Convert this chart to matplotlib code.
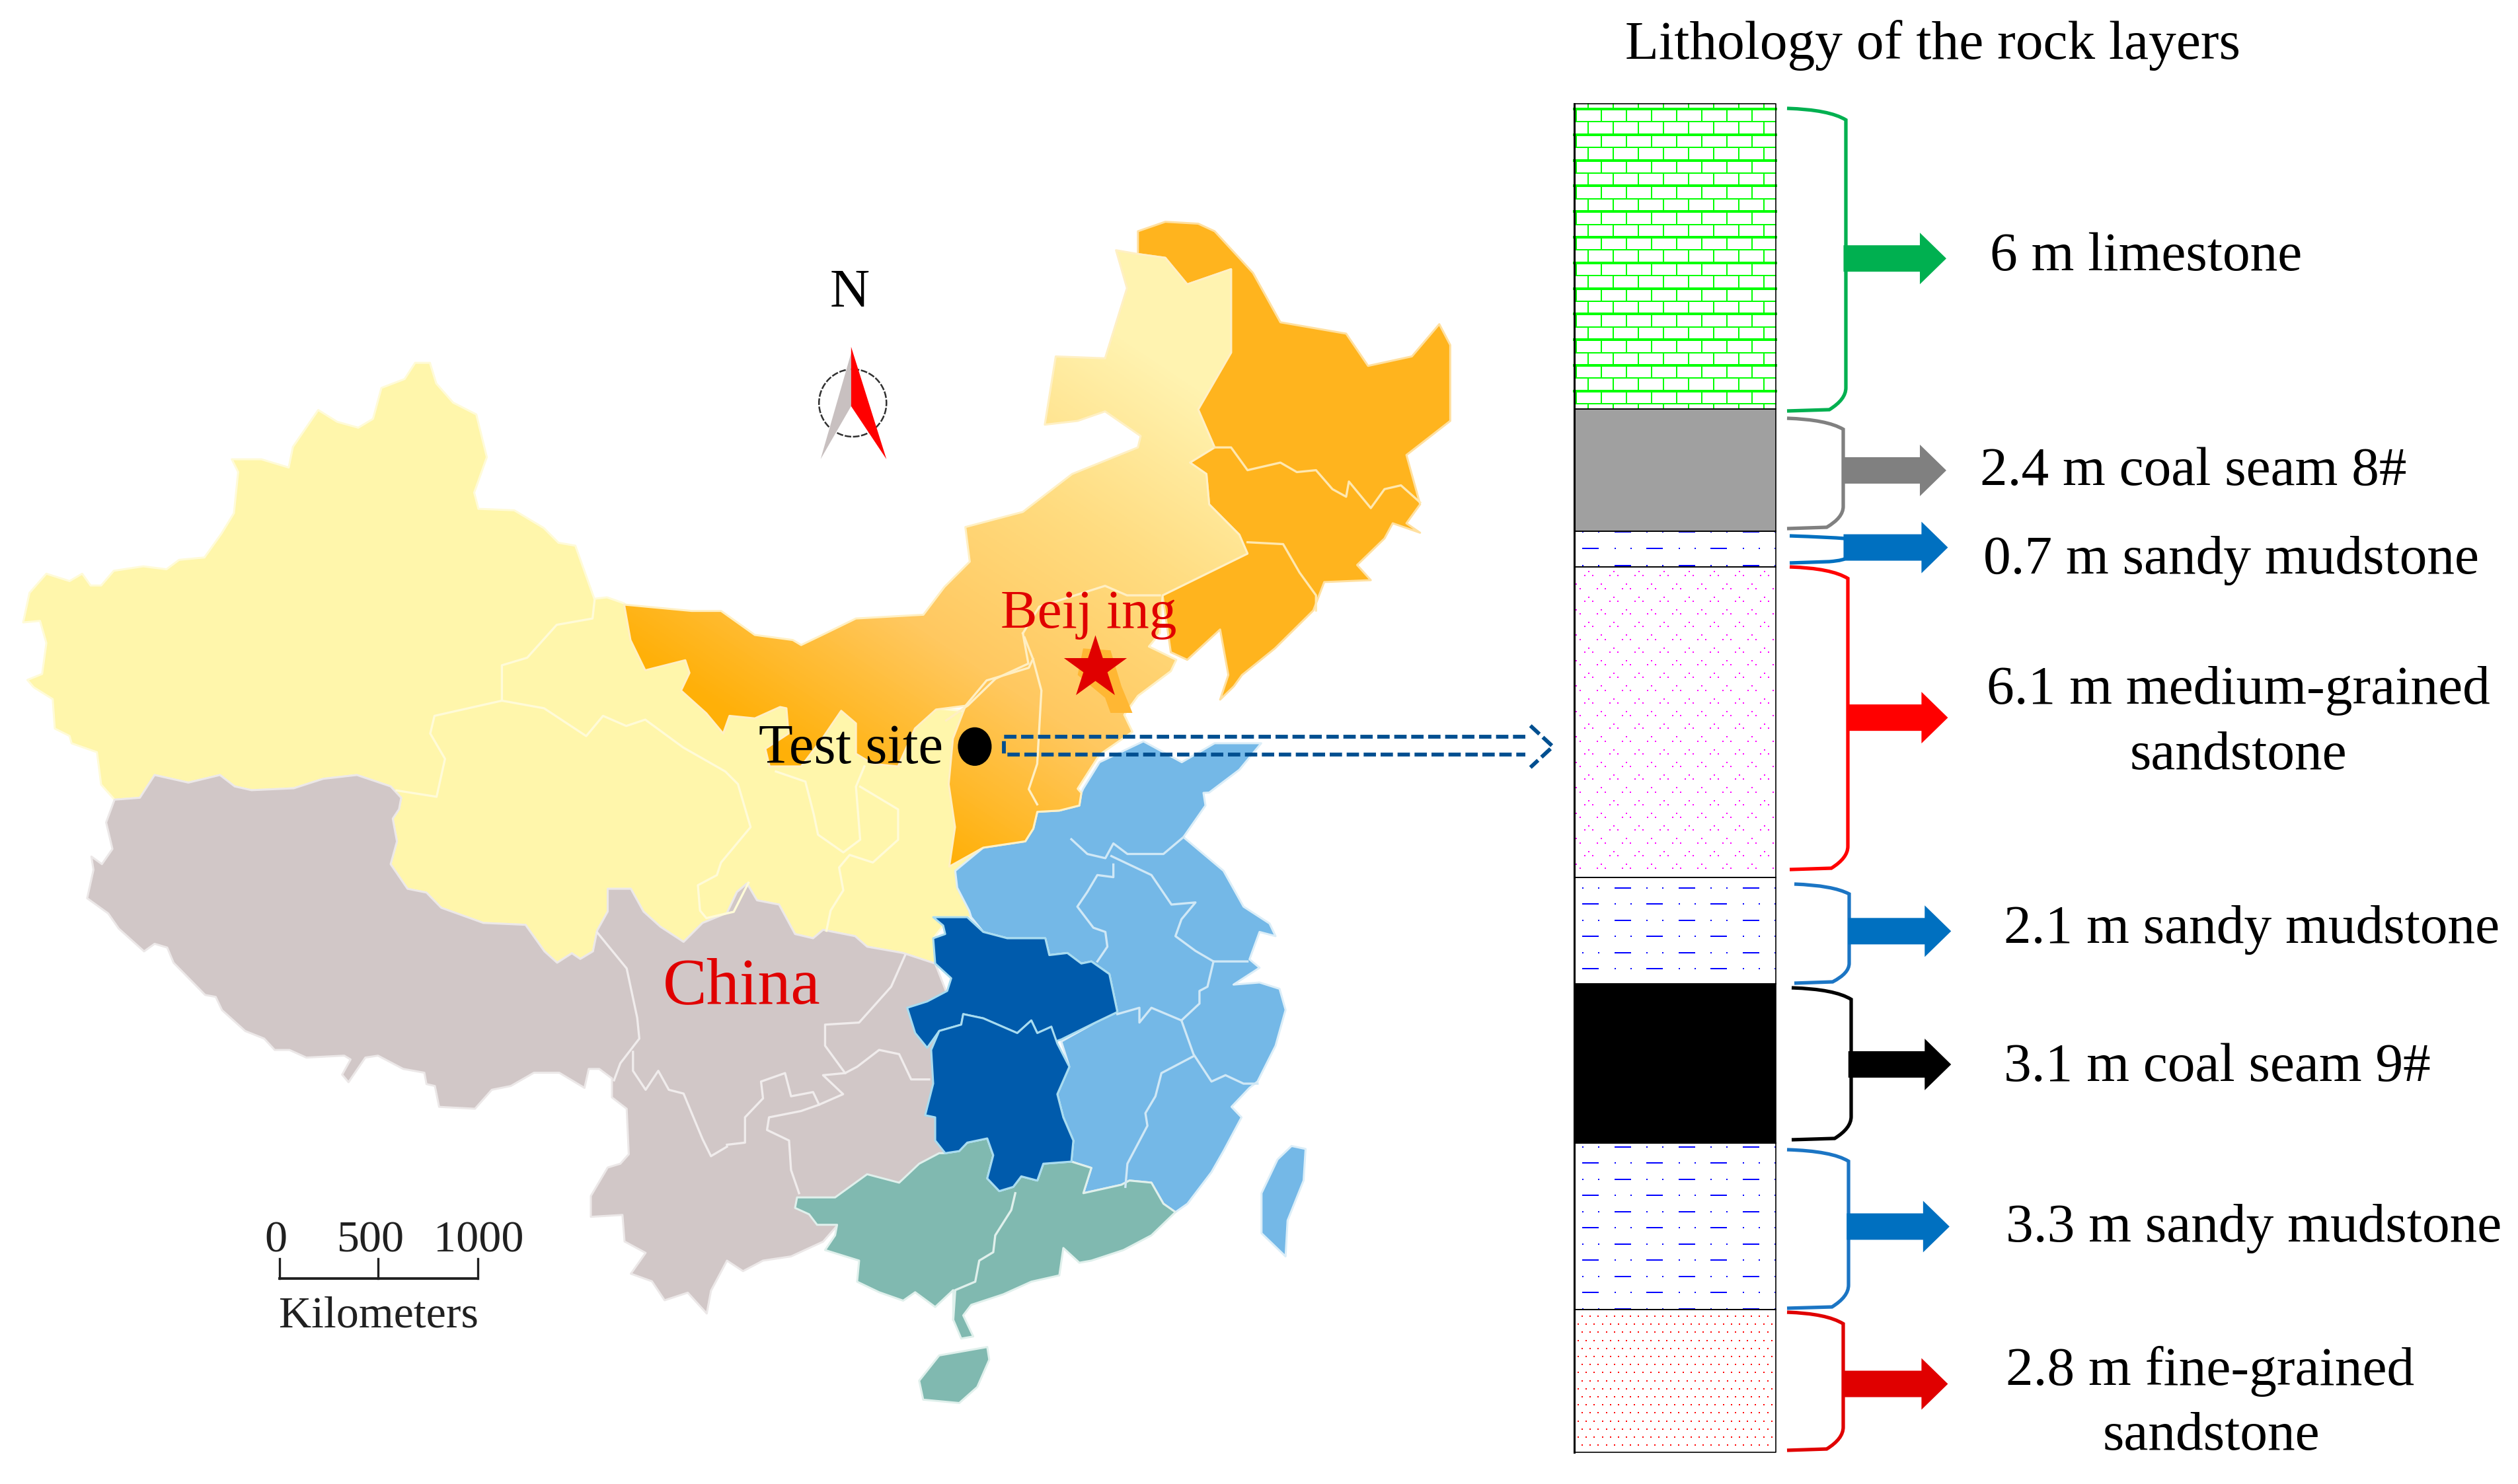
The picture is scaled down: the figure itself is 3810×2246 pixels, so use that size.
import numpy as np
import matplotlib
matplotlib.use('Agg')
import matplotlib.pyplot as plt
from matplotlib.patches import Polygon, PathPatch, Ellipse, FancyArrow
from matplotlib.path import Path
from matplotlib.colors import LinearSegmentedColormap

plt.rcParams['font.family'] = ['Liberation Serif', 'DejaVu Serif']

W, H = 3810, 2246
# labels and marks were read on a 1568 wide view of the picture
S = W / 1568


def crop(points, x, y, w, h):
    # outlines were traced on enlarged crops, 1568 units on each side
    pts = np.array(points, dtype=float)
    return np.column_stack([x + pts[:, 0] * w / 1568, y + pts[:, 1] * h / 1568])


def north(points):
    return crop(points, 1100, 350, 1300, 900)


def west(points):
    return crop(points, 0, 500, 1000, 700)


def tibet(points):
    return crop(points, 100, 1150, 1000, 900)


def south(points):
    return crop(points, 1100, 1200, 950, 1000)


def middle(points):
    return crop(points, 600, 850, 1000, 600)


xinjiang_top = west([(55, 990), (70, 890), (110, 825), (165, 850), (195, 825), (215, 865), (240, 865), (270, 815),
                     (340, 800), (395, 810), (425, 778), (485, 770), (525, 690), (555, 620), (565, 480), (550, 437),
                     (620, 437), (685, 465), (695, 395), (755, 270), (800, 310), (850, 330), (885, 300), (905, 195),
                     (960, 165), (985, 110), (1020, 110), (1035, 180), (1075, 245), (1130, 285), (1155, 430),
                     (1125, 550), (1135, 605), (1220, 610), (1290, 670), (1325, 720), (1365, 730), (1405, 890),
                     (1410, 910), (1440, 905), (1480, 925)])
xinjiang_west = west([(240, 1540), (230, 1430), (170, 1400), (165, 1375), (130, 1350), (125, 1250), (80, 1210),
                      (65, 1185), (100, 1165), (110, 1060), (95, 985)])
# yellow against grey, west to east
seam = np.vstack([
    tibet([(115, 105), (175, 100), (210, 40), (290, 60), (365, 40), (400, 70), (440, 80), (540, 75), (610, 50),
           (690, 40), (770, 70), (795, 100), (790, 130), (775, 155), (785, 215), (770, 275), (810, 340), (855, 350),
           (890, 390), (990, 430), (1090, 435), (1135, 505), (1165, 535), (1200, 510), (1220, 525), (1250, 505),
           (1260, 450), (1285, 400), (1285, 340), (1340, 340), (1370, 400), (1410, 440), (1465, 480), (1510, 430)]),
    south([(0, 285), (25, 235), (50, 215), (75, 255), (130, 265), (170, 335), (215, 345), (240, 325), (320, 340),
           (350, 365), (440, 380), (520, 405)])])
yellow_east = south([(515, 345), (540, 315), (515, 295), (610, 295), (620, 200), (700, 100), (700, 0)])
yellow_inner = middle([(1400, 600), (800, 500), (540, 170)])
west_yellow = np.vstack([xinjiang_top, yellow_inner[::-1][1:], yellow_east[::-1], seam[::-1], xinjiang_west])

gray_south = np.vstack([
    tibet([(95, 165), (110, 235), (85, 275), (60, 255), (65, 290), (50, 365), (100, 405), (125, 445), (185, 505),
           (210, 485), (240, 495), (255, 535), (330, 620), (355, 625), (370, 660), (425, 715), (470, 735), (495, 765),
           (530, 765), (570, 785), (660, 780), (675, 790), (655, 830), (670, 850), (710, 785), (740, 780), (800, 815),
           (850, 825), (855, 855), (875, 860), (885, 915), (970, 920), (1010, 870), (1055, 860), (1110, 825),
           (1170, 825), (1230, 865), (1240, 815), (1265, 815), (1295, 840), (1295, 890), (1330, 920), (1335, 1040),
           (1315, 1065), (1285, 1075), (1245, 1150), (1245, 1205), (1320, 1200), (1325, 1270), (1375, 1300),
           (1340, 1355), (1390, 1375), (1420, 1425), (1475, 1405), (1520, 1460), (1530, 1400)]),
    south([(0, 1110), (40, 1135), (90, 1110), (160, 1100), (240, 1065), (300, 1000), (540, 860), (600, 600)])])
gray_region = np.vstack([seam, gray_south[::-1]])

hubei = south([(515, 295), (600, 295), (640, 330), (700, 345), (795, 345), (805, 385), (850, 380), (885, 405),
               (910, 400), (955, 430), (975, 520), (920, 545), (835, 585), (820, 590), (810, 555), (775, 570),
               (760, 540), (725, 570), (640, 535), (590, 525), (585, 550), (530, 565), (500, 605), (470, 570),
               (450, 510), (500, 495), (550, 470), (560, 440), (520, 405), (515, 345), (545, 335), (540, 315)])
hunan = south([(510, 610), (530, 565), (585, 550), (590, 525), (640, 535), (725, 570), (760, 540), (775, 570),
               (810, 555), (825, 595), (855, 650), (825, 715), (840, 770), (865, 825), (860, 875), (790, 880),
               (775, 920), (735, 910), (715, 935), (680, 945), (650, 915), (665, 860), (650, 820), (600, 830),
               (580, 850), (545, 855), (520, 825), (520, 770), (495, 765), (515, 690)])
light_blue = np.vstack([
    south([(570, 185), (575, 225), (605, 280), (610, 295), (640, 330), (700, 345), (795, 345), (805, 385), (850, 380),
           (885, 405), (910, 400), (955, 430), (975, 520), (920, 545), (835, 590), (855, 650), (825, 715), (840, 770),
           (865, 825), (860, 875), (910, 890), (890, 950), (985, 930), (1005, 920), (1060, 925), (1090, 975),
           (1120, 995), (1150, 975), (1210, 900), (1240, 850), (1285, 770), (1260, 745), (1305, 700), (1325, 685),
           (1370, 600), (1395, 515), (1380, 465), (1330, 450), (1265, 455), (1330, 415), (1305, 395), (1330, 330),
           (1370, 340), (1355, 310), (1290, 270), (1240, 185), (1190, 145), (1140, 105), (1195, 30), (1190, 0)]),
    north([(880, 1480), (935, 1420), (975, 1350), (890, 1350), (830, 1400), (760, 1345), (680, 1400), (650, 1470)]),
    south([(885, 0), (880, 30), (830, 42), (775, 45), (765, 85), (745, 115), (640, 130)])])
teal_region = south([(530, 855), (545, 855), (580, 850), (600, 830), (650, 820), (665, 860), (650, 915), (680, 945),
                     (715, 935), (735, 910), (775, 920), (790, 880), (860, 875), (910, 890), (890, 950), (985, 930),
                     (1005, 920), (1060, 925), (1090, 975), (1120, 995), (1060, 1050), (990, 1085), (910, 1110),
                     (880, 1115), (840, 1080), (830, 1145), (760, 1160), (690, 1190), (610, 1215), (590, 1240),
                     (615, 1290), (585, 1295), (565, 1250), (565, 1180), (520, 1220), (470, 1185), (440, 1205),
                     (380, 1185), (325, 1160), (330, 1110), (245, 1085), (270, 1050), (275, 1025), (225, 1025),
                     (205, 1000), (170, 985), (175, 960), (270, 960), (350, 905), (430, 925), (480, 880)])
taiwan = south([(1335, 950), (1375, 870), (1410, 838), (1445, 845), (1440, 920), (1400, 1015), (1395, 1100), (1335, 1045)])
hainan = south([(480, 1395), (530, 1335), (650, 1315), (655, 1345), (625, 1410), (580, 1448), (490, 1440)])

north_band = np.vstack([
    middle([(540, 170), (700, 195), (770, 195), (850, 290), (940, 310), (960, 330), (1010, 290), (1090, 225),
            (1250, 210), (1300, 100), (1360, 0)]),
    north([(435, 780), (540, 740), (630, 640), (750, 570), (755, 540), (690, 475), (640, 500), (580, 510), (600, 330),
           (690, 335), (730, 150), (710, 50), (750, 60), (800, 70), (840, 140), (920, 100), (920, 320), (860, 470),
           (890, 570), (845, 610), (875, 640), (880, 720), (935, 800), (950, 850), (795, 960), (790, 1060), (770, 1095),
           (820, 1130), (810, 1160), (750, 1225), (725, 1275), (740, 1320), (680, 1380), (640, 1470)]),
    south([(885, 0), (880, 30), (830, 42), (775, 45), (765, 85), (745, 115), (640, 130), (555, 175)]),
    middle([(1325, 1050), (1310, 880), (1320, 700), (1350, 570), (1280, 585), (1230, 660), (1190, 810), (1130, 800),
            (1090, 760), (1090, 640), (1055, 590), (1010, 700), (960, 810), (885, 810), (875, 740), (930, 680),
            (925, 580), (910, 575), (850, 620), (790, 610), (775, 680), (735, 600), (675, 510), (695, 440), (685, 390),
            (590, 430), (555, 310)])])
northeast = north([(750, 0), (800, -25), (860, -20), (890, 0), (960, 110), (1010, 240), (1130, 270), (1170, 355),
                   (1250, 330), (1300, 245), (1320, 300), (1320, 500), (1240, 590), (1265, 720), (1240, 770),
                   (1265, 795), (1215, 770), (1200, 810), (1150, 880), (1175, 920), (1090, 925), (1070, 1000),
                   (1000, 1100), (940, 1170), (925, 1200), (900, 1235), (915, 1170), (900, 1050), (840, 1130),
                   (810, 1110), (795, 960), (950, 850), (935, 800), (880, 720), (875, 640), (845, 610), (890, 570),
                   (860, 470), (920, 320), (920, 100), (840, 140), (800, 70), (750, 60)])
beijing_patch = north([(650, 1100), (700, 1105), (720, 1200), (740, 1270), (700, 1270), (690, 1230), (640, 1170)])

borders_yellow = [
    middle([(470, 150), (465, 225), (380, 250), (310, 380), (250, 410), (250, 550), (90, 610), (80, 680), (115, 780),
            (95, 930), (0, 905)]),
    middle([(250, 550), (350, 580), (450, 690), (490, 610), (545, 650), (590, 625), (680, 735), (780, 830), (810, 880),
            (840, 1050), (770, 1190), (760, 1240), (715, 1280), (720, 1380), (735, 1410), (800, 1385), (835, 1270)]),
    middle([(900, 830), (970, 870), (990, 1000), (1000, 1080), (1060, 1150), (1100, 1100), (1090, 890), (1110, 810)]),
    middle([(1100, 890), (1190, 980), (1190, 1100), (1130, 1190), (1075, 1160), (1050, 1210), (1060, 1300), (1030, 1380),
            (1020, 1460)])]
borders_gray = [
    tibet([(1260, 455), (1330, 550), (1355, 680), (1360, 735), (1315, 800), (1300, 845)]),
    tibet([(1345, 770), (1345, 820), (1375, 870), (1405, 820), (1430, 870), (1465, 880), (1510, 1000), (1530, 1045),
           (1568, 1020)]),
    south([(445, 385), (410, 460), (330, 545), (245, 550), (245, 600), (295, 665), (325, 650), (380, 610), (430, 620),
           (460, 680), (505, 680)]),
    south([(295, 665), (240, 670), (290, 715), (230, 740), (215, 710), (160, 720), (145, 665), (85, 685), (90, 725),
           (45, 770), (45, 830), (0, 835)]),
    south([(230, 740), (185, 755), (105, 770), (100, 800), (155, 825), (160, 895), (180, 950)])]
borders_blue = [
    south([(860, 110), (900, 145), (945, 155), (965, 120), (1000, 145), (1090, 145), (1140, 105)]),
    south([(960, 150), (1060, 195), (1110, 265), (1170, 260), (1135, 300), (1120, 340), (1170, 375), (1215, 400), (1300, 400)]),
    south([(965, 170), (965, 200), (925, 195), (900, 235), (875, 270), (915, 320), (945, 330), (950, 365), (925, 400)]),
    south([(1215, 400), (1200, 460), (1180, 470), (1180, 500), (1135, 540), (1060, 510), (1030, 545), (1030, 510), (975, 525)]),
    south([(1135, 540), (1165, 620), (1210, 685), (1245, 670), (1290, 690), (1325, 690)]),
    south([(1165, 625), (1085, 665), (1070, 720), (1045, 760), (1050, 790), (1000, 880), (995, 935)])]
borders_teal = [south([(720, 950), (710, 990), (670, 1050), (665, 1090), (630, 1110), (620, 1160), (570, 1180), (565, 1250)])]
borders_orange = [
    north([(890, 570), (920, 570), (950, 630), (1010, 610), (1040, 635), (1075, 630), (1105, 680), (1130, 700), (1135, 660),
           (1175, 730), (1200, 680), (1230, 670), (1265, 715)]),
    north([(950, 820), (1015, 825), (1045, 900), (1075, 960), (1075, 1000)])]
borders_band = [
    north([(540, 1060), (550, 1140), (490, 1180), (440, 1250), (400, 1290)]),
    middle([(1510, 385), (1500, 420), (1400, 470), (1350, 570)]),
    middle([(1490, 300), (1510, 385), (1530, 510), (1520, 800), (1500, 900), (1520, 960)]),
    north([(540, 1060), (570, 990), (690, 935), (730, 960), (790, 960)])]

# column of rock layers, y positions in px
layer_edges = [157, 619, 804, 858, 1328, 1489, 1730, 1982, 2198]
layer_fill = ['white', '#A0A0A0', 'white', 'white', 'white', 'black', 'white', 'white']
column_x = (2382, 2687)

layer_labels = [('6 m limestone', 1239, 158), ('2.4 m coal seam 8#', 1233, 292),
                ('0.7 m sandy mudstone', 1235, 347), ('6.1 m medium-grained', 1237, 428),
                ('2.1 m sandy mudstone', 1248, 577), ('3.1 m coal seam 9#', 1248, 663),
                ('3.3 m sandy mudstone', 1249, 763), ('2.8 m fine-grained', 1249, 852)]
wrapped_labels = [('sandstone', 1394, 469), ('sandstone', 1377, 893)]

# x0, x1, y0, y1, colour
brackets = [(2704, 2793, 164, 622, '#00B050'), (2704, 2789, 633, 800, '#808080'),
            (2708, 2793, 811, 852, '#0070C0'), (2708, 2796, 858, 1316, '#FF0000'),
            (2715, 2798, 1338, 1488, '#1B75C4'), (2711, 2801, 1495, 1725, '#000000'),
            (2704, 2797, 1740, 1980, '#1B75C4'), (2704, 2789, 1986, 2195, '#E00000')]
# x start, x end, y, colour
arrows = [(1148, 1212, 161, '#00B050'), (1147, 1212, 293, '#808080'), (1148, 1213, 341, '#0070C0'),
          (1150, 1213, 447, '#FF0000'), (1151, 1215, 580, '#0070C0'), (1151, 1215, 663, '#000000'),
          (1150, 1214, 764, '#0070C0'), (1148, 1213, 862, '#E00000')]

scale_ticks = [423, 572, 723]
scale_labels = ['0', '500', '1000']


def scaled(points):
    return np.array(points) * S


def bracket(ax, x0, x1, y0, y1, color):
    bend = min(35, (y1 - y0) * 0.2)
    verts = [(x0, y0), (x1 - 25, y0 + 2), (x1, y0 + bend * 0.5), (x1, y0 + bend), (x1, y1 - bend),
             (x1, y1 - bend * 0.5), (x1 - 25, y1 - 2), (x0, y1)]
    codes = [Path.MOVETO, Path.CURVE3, Path.CURVE3, Path.LINETO, Path.LINETO, Path.CURVE3, Path.CURVE3, Path.LINETO]
    ax.add_patch(PathPatch(Path(verts, codes), fc='none', ec=color, lw=3.8, zorder=4))


def mudstone(ax, rows):
    # dashes swap side every second row, a pair of dots fills the gap
    for y, kind in rows:
        start = 2394 if kind == 0 else 2443
        dots = 2443 if kind == 0 else 2394
        for k in range(4):
            x = start + 97 * k
            if x < column_x[1]:
                ax.plot([x, min(x + 25, column_x[1])], [y, y], color='#0000FF', lw=1.1, solid_capstyle='butt',
                        antialiased=False, zorder=3)
            for dx in (0, 24):
                if dots + 97 * k + dx < column_x[1]:
                    ax.plot([dots + 97 * k + dx, dots + 97 * k + dx + 2], [y, y], color='#0000FF', lw=1.1,
                            solid_capstyle='butt', antialiased=False, zorder=3)


fig = plt.figure(figsize=(W / 100, H / 100), dpi=100, facecolor='white')
ax = fig.add_axes([0, 0, 1, 1])

for pts, col, edge in [(west_yellow, '#FFF6AB', '#FFFBD8'), (gray_region, '#D1C7C7', '#ECE8E8'),
                       (light_blue, '#74B8E7', '#DCEEF8'), (teal_region, '#80B9B0', '#E0F0EC'),
                       (taiwan, '#74B8E7', '#DCEEF8'), (hainan, '#80B9B0', '#E0F0EC'),
                       (hubei, '#005BAC', '#A8DCF0'), (hunan, '#005BAC', '#A8DCF0'),
                       (northeast, '#FFB41E', '#FFE0A0')]:
    ax.add_patch(Polygon(pts, closed=True, fc=col, ec=edge, lw=2.2, joinstyle='round', zorder=1))

# northern band fades from strong orange to pale yellow
gx, gy = np.meshgrid(np.linspace(380, 780, 200), np.linspace(150, 550, 200))
shade = np.clip((gx - 430) / 300 * 0.5 + (430 - gy) / 200 * 0.5, 0, 1)
fade = LinearSegmentedColormap.from_list('fade', ['#FFB008', '#FFC860', '#FFDC80', '#FFF3B0'])
band = Polygon(north_band, closed=True, fc='none', ec='none', transform=ax.transData)
ax.add_patch(band)
im = ax.imshow(shade, cmap=fade, extent=(380 * S, 780 * S, 550 * S, 150 * S), aspect='auto', interpolation='bilinear', zorder=1.5)
im.set_clip_path(band)
ax.add_patch(Polygon(north_band, closed=True, fc='none', ec='#FFF0C4', lw=2.2, joinstyle='round', zorder=1.6))
ax.add_patch(Polygon(beijing_patch, closed=True, fc='#FFB733', ec='none', zorder=1.7))

for lines, col in [(borders_yellow, '#FFFBD8'), (borders_gray, '#F0ECEC'), (borders_blue, '#D0E8F6'),
                   (borders_teal, '#E0F0EC'), (borders_orange, '#FFE8B0'), (borders_band, '#FFEFC4')]:
    for line in lines:
        ax.plot(line[:, 0], line[:, 1], color=col, lw=2.4, zorder=2)

# compass
ax.add_patch(Ellipse((531 * S, 251 * S), 42 * S, 42 * S, fc='none', ec='#303030', lw=1.8, ls=(0, (4, 1)), zorder=3))
ax.add_patch(Polygon(scaled([(530, 220), (530, 253), (511, 286)]), closed=True, fc='#C8C0C0', ec='none', zorder=4))
ax.add_patch(Polygon(scaled([(530, 216), (552, 286), (530, 253)]), closed=True, fc='#FF0000', ec='none', zorder=4))

# test site and Beijing
ax.scatter([682 * S], [416 * S], marker='*', s=5200, color='#E00000', linewidths=0, zorder=5)
ax.add_patch(Ellipse((607 * S, 465 * S), 21 * S, 24 * S, fc='black', ec='none', zorder=5))
link = scaled([(950, 459), (625, 459), (625, 470), (950, 470)])
ax.plot(link[:, 0], link[:, 1], color='#004F90', lw=4.2, ls=(0, (3.2, 1.2)), zorder=5)
head = scaled([(953, 452), (967, 465), (953, 478)])
ax.plot(head[:, 0], head[:, 1], color='#004F90', lw=4.2, ls=(0, (3.2, 1.2)), zorder=5)

# scale bar
ax.plot([scale_ticks[0], scale_ticks[-1]], [1935, 1935], color='#202020', lw=2.8, zorder=3)
for x in scale_ticks:
    ax.plot([x, x], [1905, 1935], color='#202020', lw=2.4, zorder=3)

# rock column
for k, col in enumerate(layer_fill):
    ax.fill_between(column_x, layer_edges[k], layer_edges[k + 1], color=col, lw=0, zorder=2)

# limestone bricks
for r, y in enumerate(np.arange(165, 619, 19.4)):
    ax.plot(column_x, [y, y], color='#00FF00', lw=1.1 + 0.5 * (r % 2 == 0), antialiased=False, zorder=3)
    offset = 2385 if r % 2 == 0 else 2403
    for x in np.arange(offset, column_x[1], 38):
        ax.plot([x, x], [y, min(y + 19.4, 619)], color='#00FF00', lw=1.1, antialiased=False, zorder=3)
for x in np.arange(2403, column_x[1], 38):
    ax.plot([x, x], [157, 165], color='#00FF00', lw=1.1, antialiased=False, zorder=3)

mudstone(ax, [(805, 1), (830, 0), (856, 1)])
mudstone(ax, [(1344 + 24.45 * k, (k + 1) % 2) for k in range(6)])
mudstone(ax, [(1736 + 24.45 * k, (k + 1) % 2) for k in range(11)])

# medium sandstone, sparse magenta specks
pink_x, pink_y = [], []
for i, y in enumerate(np.arange(865, 1325, 19.25)):
    x0 = 2404 if i % 2 == 0 else 2385
    for x in np.arange(x0, column_x[1] + 6, 38):
        if x < column_x[1] - 2:
            pink_x.append(x)
            pink_y.append(y)
        for dx in (-6, 6):
            if column_x[0] + 2 < x + dx < column_x[1] - 2:
                pink_x.append(x + dx)
                pink_y.append(y + 6.3)
ax.scatter(pink_x, pink_y, marker='s', s=2.2, color='#FF00FF', linewidths=0, antialiaseds=False, zorder=3)

# fine sandstone, dense red dots
red_x, red_y = [], []
for i, y in enumerate(np.arange(1992, 2194, 12.2)):
    x0 = 2388 if i % 2 else 2394
    for x in np.arange(x0, column_x[1] - 2, 12.2):
        red_x.append(x)
        red_y.append(y)
ax.scatter(red_x, red_y, marker='s', s=2.8, color='#FF0000', linewidths=0, antialiaseds=False, zorder=3)

ax.plot([column_x[0], column_x[1], column_x[1], column_x[0], column_x[0]],
        [157, 157, 2198, 2198, 157], color='black', lw=1.2, zorder=4)
ax.plot([column_x[0], column_x[0]], [157, 2198], color='black', lw=2.2, zorder=4)
for y in layer_edges[1:-1]:
    ax.plot(column_x, [y, y], color='black', lw=1.4, zorder=4)

for x0, x1, y0, y1, col in brackets:
    bracket(ax, x0, x1, y0, y1, col)

for x0, x1, y, col in arrows:
    ax.add_patch(FancyArrow(x0 * S, y * S, (x1 - x0) * S, 0, width=40, head_width=78, head_length=40,
                            length_includes_head=True, fc=col, ec='none', zorder=5))

# text, the small shift puts the letters on the read centre line
FS = 60
UP = 2
ax.text(1012 * S, (26 + UP) * S, 'Lithology of the rock layers', fontsize=FS, ha='left', va='center', zorder=6)
for txt, x, y in layer_labels:
    ax.text(x * S, (y + UP) * S, txt, fontsize=FS, ha='left', va='center', zorder=6)
for txt, x, y in wrapped_labels:
    ax.text(x * S, (y + UP) * S, txt, fontsize=FS, ha='center', va='center', zorder=6)
ax.text(529 * S, (181 + UP) * S, 'N', fontsize=FS, ha='center', va='center', zorder=6)
ax.text(678 * S, (381 + UP) * S, 'Beij ing', fontsize=FS, color='#E00000', ha='center', va='center', zorder=6)
ax.text(530 * S, (465 + UP) * S, 'Test site', fontsize=61, ha='center', va='center', zorder=6)
ax.text(462 * S, (613 + UP) * S, 'China', fontsize=72, color='#E00000', ha='center', va='center', zorder=6)
for x, txt in zip([172, 231, 298], scale_labels):
    ax.text(x * S, 773 * S, txt, fontsize=49, color='#202020', ha='center', va='center', zorder=6)
ax.text(236 * S, 820 * S, 'Kilometers', fontsize=49, color='#202020', ha='center', va='center', zorder=6)

ax.set_xlim(0, W)
ax.set_ylim(H, 0)
ax.axis('off')
fig.savefig('out.png', dpi=100, facecolor='white')
